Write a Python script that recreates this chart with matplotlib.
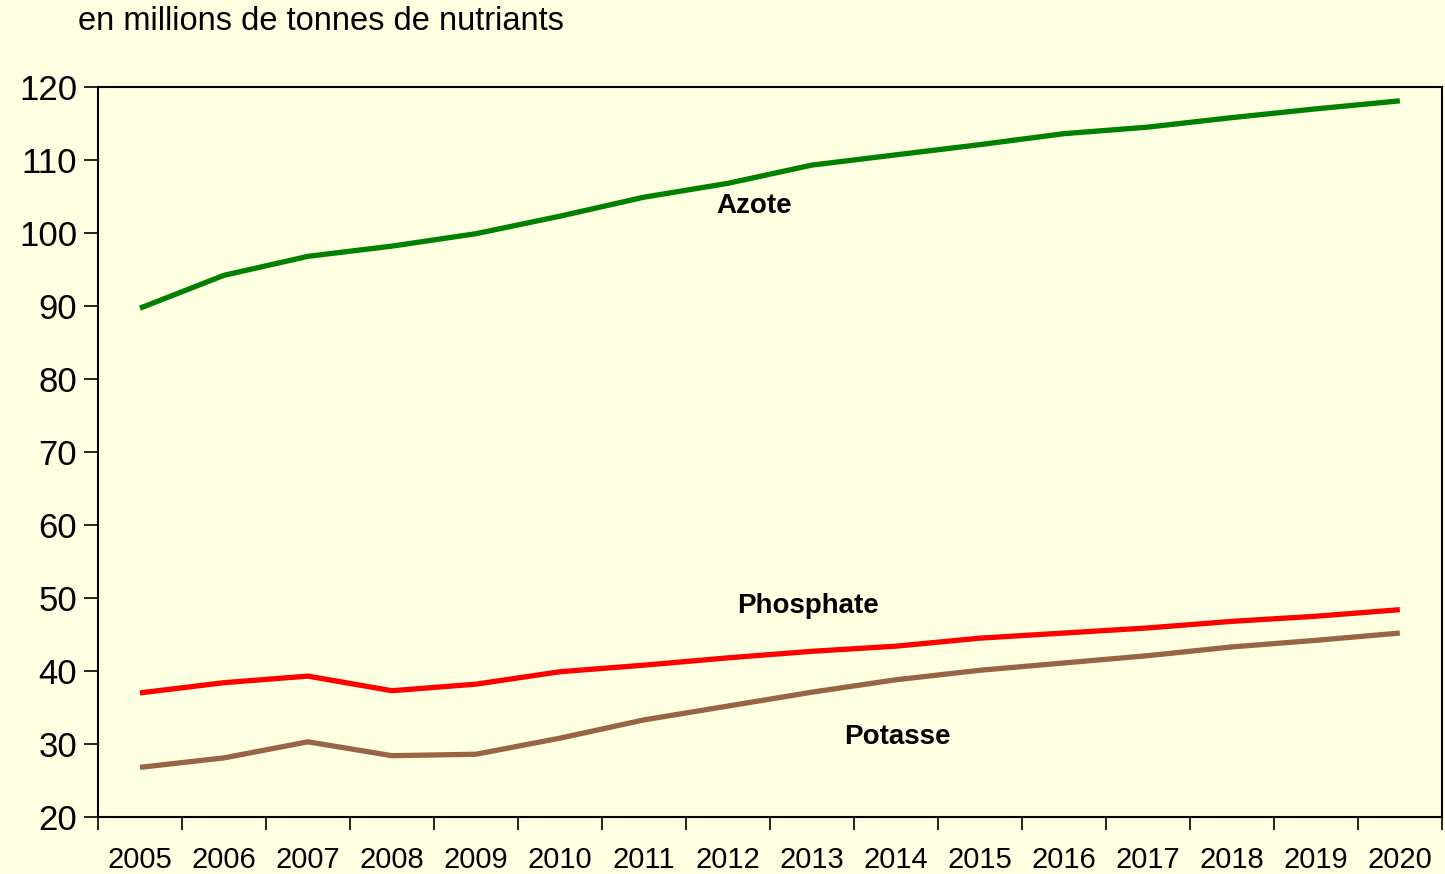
import matplotlib.pyplot as plt
import numpy as np

plt.rcParams['font.family'] = ['Liberation Sans', 'DejaVu Sans']

years = ["2005", "2006", "2007", "2008", "2009", "2010", "2011", "2012",
         "2013", "2014", "2015", "2016", "2017", "2018", "2019", "2020"]

azote = [89.7, 94.2, 96.8, 98.2, 99.9, 102.3, 104.9, 106.8,
         109.3, 110.7, 112.1, 113.6, 114.5, 115.8, 117.0, 118.1]
phosphate = [37.0, 38.4, 39.3, 37.3, 38.2, 39.9, 40.8, 41.8,
             42.7, 43.4, 44.5, 45.2, 45.9, 46.8, 47.5, 48.4]
potasse = [26.8, 28.1, 30.3, 28.4, 28.6, 30.8, 33.3, 35.2,
           37.1, 38.8, 40.1, 41.1, 42.1, 43.3, 44.2, 45.2]

bg = '#FFFFE1'


def draw():
    fig = plt.figure(figsize=(14.45, 8.74), dpi=100, facecolor=bg)
    ax = fig.add_axes([0.0678, 0.0652, 0.930, 0.8353], facecolor=bg)

    x = np.arange(len(years))
    ax.plot(x, azote, color='#008000', lw=3.8, solid_capstyle='butt')
    ax.plot(x, phosphate, color='#FF0000', lw=3.8, solid_capstyle='butt')
    ax.plot(x, potasse, color='#976545', lw=3.8, solid_capstyle='butt')

    ax.text(7.31, 103.7, "Azote", fontsize=20, fontweight='bold', ha='center', va='center')
    ax.text(7.95, 48.9, "Phosphate", fontsize=20, fontweight='bold', ha='center', va='center')
    ax.text(9.02, 31.0, "Potasse", fontsize=20, fontweight='bold', ha='center', va='center')

    ax.set_xlim(-0.5, len(years) - 0.5)
    ax.set_ylim(20, 120)
    ax.set_yticks(range(20, 121, 10))
    ax.tick_params(axis='y', labelsize=25, length=10, width=1.2, direction='out', pad=5)

    # category boundaries carry the tick marks, centres carry the labels
    ax.set_xticks(np.arange(-0.5, len(years), 1.0))
    ax.set_xticklabels([])
    ax.set_xticks(x, minor=True)
    ax.set_xticklabels(years, minor=True)
    ax.tick_params(axis='x', which='major', length=9, width=1.2, direction='out')
    ax.tick_params(axis='x', which='minor', length=0, labelsize=21, pad=21)

    for s in ax.spines.values():
        s.set_linewidth(1.5)
        s.set_color('black')

    fig.text(0.054, 0.975, "en millions de tonnes de nutriants", fontsize=23.5,
             ha='left', va='center')

    fig.savefig("out.png", dpi=100, facecolor=bg)


if __name__ == "__main__":
    draw()
